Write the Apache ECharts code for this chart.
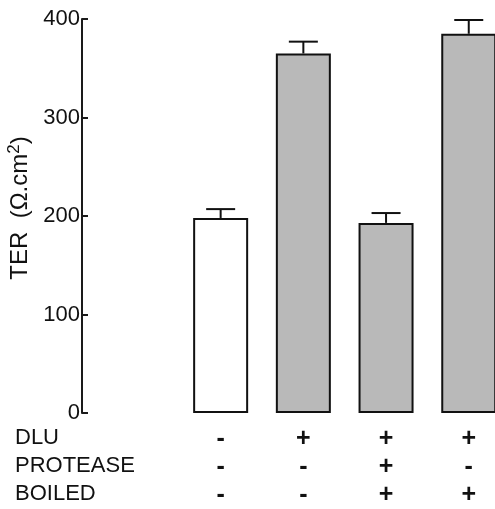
<!DOCTYPE html>
<html>
<head>
<meta charset="utf-8">
<script src="https://cdn.jsdelivr.net/npm/echarts@6/dist/echarts.min.js"></script>
<style>
  html, body { margin: 0; padding: 0; background: #fff; }
  #chart { width: 495px; height: 509px; }
</style>
</head>
<body>
<div id="chart"></div>
<script>
// Treatment groups and the +/- state of each condition
const groups = ['control', 'DLU', 'DLU+protease+boiled', 'DLU+boiled'];
const rowNames = ['DLU', 'PROTEASE', 'BOILED'];
const dluSigns = ['-', '+', '+', '+'];
const proteaseSigns = ['-', '-', '+', '-'];
const boiledSigns = ['-', '-', '+', '+'];

// Transepithelial resistance (mean and standard error)
const terMean = [198, 365, 193, 385];
const terError = [9, 12, 10, 14];
const barFill = ['#ffffff', '#b9b9b9', '#b9b9b9', '#b9b9b9'];

// Y axis ticks
const yTicks = [0, 100, 200, 300, 400];

const FONT = 'Liberation Sans, Arial, Helvetica, sans-serif';

const chart = echarts.init(document.getElementById('chart'), null, { renderer: 'canvas' });

const signRows = groups.map((g, i) => [dluSigns[i], proteaseSigns[i], boiledSigns[i]].join('\n'));

chart.setOption({
  animation: false,
  grid: { left: 179.3, top: 19, width: 330.8, height: 394, containLabel: false, outerBoundsMode: 'none' },
  xAxis: {
    type: 'category',
    data: groups,
    axisLine: { show: false },
    axisTick: { show: false },
    axisLabel: {
      interval: 0,
      margin: 12,
      fontFamily: FONT,
      fontSize: 25,
      fontWeight: 'bold',
      lineHeight: 28,
      color: '#111',
      formatter: (v, i) => signRows[i]
    }
  },
  yAxis: {
    type: 'value',
    min: yTicks[0],
    max: yTicks[yTicks.length - 1],
    interval: 100,
    offset: 97.3,
    splitLine: { show: false },
    axisLine: { show: true, lineStyle: { color: '#1a1a1a', width: 2 } },
    axisTick: { show: true, inside: true, length: 6, lineStyle: { color: '#1a1a1a', width: 2 } },
    axisLabel: {
      margin: 2,
      fontFamily: FONT,
      fontSize: 22,
      color: '#111',
      formatter: v => String(v)
    },
    name: 'TER  (Ω.cm{sup|2})',
    nameLocation: 'middle',
    nameGap: 46,
    nameRotate: 90,
    nameTextStyle: {
      fontFamily: FONT,
      fontSize: 24,
      color: '#111',
      padding: [0, 0, 0, 16],
      rich: {
        sup: { fontFamily: FONT, fontSize: 17, color: '#111', verticalAlign: 'top', padding: [0, 0, 12, 0] }
      }
    }
  },
  series: [
    {
      type: 'bar',
      barWidth: 55,
      data: terMean.map((v, i) => ({
        value: v,
        itemStyle: { color: barFill[i], borderColor: '#111', borderWidth: 2 }
      })),
      z: 2
    },
    {
      // Upper error bars: stem from bar top to mean + SE, with a horizontal cap
      type: 'custom',
      z: 3,
      data: terMean.map((v, i) => [i, v, v + terError[i]]),
      renderItem: (params, api) => {
        const x = api.value(0);
        const top = api.coord([x, api.value(2)]);
        const base = api.coord([x, api.value(1)]);
        const half = 14.5;
        return {
          type: 'group',
          children: [
            { type: 'line', shape: { x1: top[0], y1: top[1], x2: base[0], y2: base[1] }, style: { stroke: '#111', lineWidth: 2 } },
            { type: 'line', shape: { x1: top[0] - half, y1: top[1], x2: top[0] + half, y2: top[1] }, style: { stroke: '#111', lineWidth: 2 } }
          ]
        };
      }
    }
  ],
  graphic: rowNames.map((name, r) => ({
    type: 'text',
    left: 15,
    top: 427 + r * 28,
    style: { text: name, fontFamily: FONT, fontSize: 22, fill: '#111' }
  }))
});
</script>
</body>
</html>
